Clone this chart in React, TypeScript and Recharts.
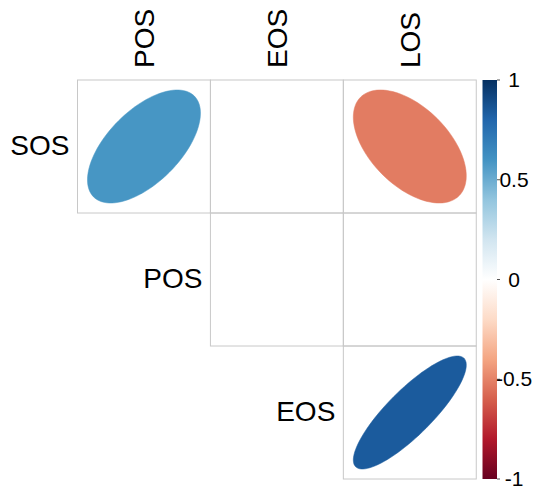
import React from "react";
import {
  ComposedChart,
  XAxis,
  YAxis,
  ReferenceArea,
  Scatter,
} from "recharts";

// Variables of the upper-triangle correlation matrix
const rowVars = ["SOS", "POS", "EOS"];
const colVars = ["POS", "EOS", "LOS"];

// Correlations per row, starting at the diagonal column (null = not significant, left blank)
const corrSOS = [0.59, null, -0.52];
const corrPOS = [null, null];
const corrEOS = [0.84];
const corrRows: (number | null)[][] = [corrSOS, corrPOS, corrEOS];

const legendTicks = [-1, -0.5, 0, 0.5, 1];

// RdBu diverging palette, from -1 to 1
const palette = [
  "#67001F",
  "#B2182B",
  "#D6604D",
  "#F4A582",
  "#FDDBC7",
  "#FFFFFF",
  "#D1E5F0",
  "#92C5DE",
  "#4393C3",
  "#2166AC",
  "#053061",
];

const FONT = '"Liberation Sans", Arial, Helvetica, sans-serif';
const X_MAX = 3.156; // three cells plus the colour key column
const KEY_X1 = 3.047;

const hexToRgb = (hex: string) => [
  parseInt(hex.slice(1, 3), 16),
  parseInt(hex.slice(3, 5), 16),
  parseInt(hex.slice(5, 7), 16),
];

const corrColor = (r: number) => {
  const t = ((r + 1) / 2) * (palette.length - 1);
  const i = Math.min(Math.floor(t), palette.length - 2);
  const f = t - i;
  const a = hexToRgb(palette[i]);
  const b = hexToRgb(palette[i + 1]);
  const c = a.map((v, k) => Math.round(v + (b[k] - v) * f));
  return `rgb(${c[0]},${c[1]},${c[2]})`;
};

// corrplot-style ellipse path for a correlation inside a w x h cell
const ellipsePath = (r: number, cx: number, cy: number, w: number, h: number) => {
  const d = Math.acos(r);
  const pts: string[] = [];
  for (let n = 0; n < 100; n++) {
    const k = (n / 100) * 2 * Math.PI;
    const ex = (Math.cos(k + d / 2) / 2) * w * 0.85;
    const ey = (Math.cos(k - d / 2) / 2) * h * 0.85;
    pts.push(`${(cx + ex).toFixed(2)},${(cy - ey).toFixed(2)}`);
  }
  return `M${pts.join("L")}Z`;
};

const makeCell = (value: number | null) => (props: any) => {
  const { x, y, width, height } = props;
  return (
    <g>
      <rect
        x={x}
        y={y}
        width={width}
        height={height}
        fill="none"
        stroke="#c8c8c8"
        strokeWidth={1}
      />
      {value !== null && (
        <path
          d={ellipsePath(value, x + width / 2, y + height / 2, width, height)}
          fill={corrColor(value)}
          stroke={corrColor(value)}
          strokeWidth={0.5}
        />
      )}
    </g>
  );
};

const ColumnTick = (props: any) => {
  const { x, y, payload } = props;
  return (
    <text
      x={x}
      y={y}
      dy="0.36em"
      transform={`rotate(-90 ${x} ${y})`}
      textAnchor="start"
      fontSize={28}
      fontFamily={FONT}
      fill="#000"
    >
      {colVars[Math.floor(payload.value)]}
    </text>
  );
};

const KeyTick = (props: any) => {
  const { x, y, payload } = props;
  return (
    <text
      x={x}
      y={y}
      dy="0.34em"
      textAnchor="middle"
      fontSize={21}
      fontFamily={FONT}
      fill="#000"
    >
      {payload.value}
    </text>
  );
};

// row names sit just left of the first cell of each row
const RowLabel = (props: any) => (
  <text
    x={props.cx - 8}
    y={props.cy}
    dy="0.3em"
    textAnchor="end"
    fontSize={28}
    fontFamily={FONT}
    fill="#000"
  >
    {props.payload.name}
  </text>
);

const rowLabelData = rowVars.map((name, i) => ({ name, x: i, y: i + 0.5 }));

export default function App() {
  const cells: { i: number; j: number; value: number | null }[] = [];
  corrRows.forEach((row, i) =>
    row.forEach((value, k) => cells.push({ i, j: i + k, value })),
  );

  return (
    <div style={{ position: "absolute", left: 0, top: 0 }}>
      <ComposedChart
        width={536}
        height={489}
        margin={{ top: 0, right: 0, bottom: 10, left: 77.5 }}
      >
        <defs>
          <linearGradient id="corrKey" x1="0" y1="1" x2="0" y2="0">
            {palette.map((c, k) => (
              <stop key={k} offset={k / (palette.length - 1)} stopColor={c} />
            ))}
          </linearGradient>
        </defs>
        <XAxis
          dataKey="x"
          type="number"
          orientation="top"
          height={80}
          domain={[0, X_MAX]}
          ticks={[0.5, 1.5, 2.5]}
          interval={0}
          axisLine={false}
          tickLine={false}
          tickSize={0}
          tickMargin={12}
          tick={<ColumnTick />}
        />
        <YAxis
          yAxisId="grid"
          dataKey="y"
          type="number"
          domain={[0, 3]}
          reversed
          hide
        />
        <YAxis
          yAxisId="key"
          type="number"
          orientation="right"
          width={39}
          domain={[-1, 1]}
          ticks={legendTicks}
          interval={0}
          axisLine={false}
          tickLine={{ stroke: "#555" }}
          tickSize={3}
          tickMargin={14}
          tick={<KeyTick />}
          allowDataOverflow
        />
        {cells.map((c) => (
          <ReferenceArea
            key={`${c.i}-${c.j}`}
            yAxisId="grid"
            x1={c.j}
            x2={c.j + 1}
            y1={c.i}
            y2={c.i + 1}
            shape={makeCell(c.value)}
          />
        ))}
        <ReferenceArea
          yAxisId="key"
          x1={KEY_X1}
          x2={X_MAX}
          y1={-1}
          y2={1}
          fill="url(#corrKey)"
          fillOpacity={1}
          stroke="none"
        />
        <Scatter
          yAxisId="grid"
          data={rowLabelData}
          dataKey="y"
          shape={<RowLabel />}
          isAnimationActive={false}
        />
      </ComposedChart>
    </div>
  );
}
